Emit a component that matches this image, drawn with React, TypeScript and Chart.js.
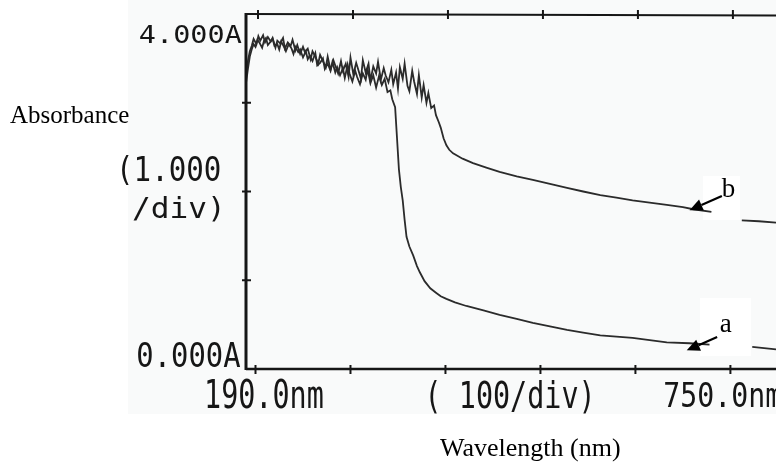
import React, { useEffect, useRef } from "react";
import { Chart, registerables } from "chart.js";

Chart.register(...registerables);

// ---- data (wavelength nm, absorbance A) ----
const curveA: [number, number | null][] = [
  [190, 3.22], [192, 3.38], [194, 3.52], [196, 3.6], [198, 3.66], [200, 3.63], [202, 3.71], [204, 3.68],
  [207, 3.62], [209, 3.7], [211, 3.73], [213, 3.65], [216, 3.69], [218, 3.72], [220, 3.64], [223, 3.66],
  [225, 3.6], [227, 3.69], [230, 3.63], [232, 3.58], [235, 3.66], [238, 3.61], [240, 3.55], [242, 3.63],
  [245, 3.57], [247, 3.6], [250, 3.51], [253, 3.58], [255, 3.49], [257, 3.53], [260, 3.47], [263, 3.56],
  [265, 3.42], [268, 3.45], [271, 3.5], [273, 3.38], [276, 3.44], [279, 3.36], [281, 3.46], [284, 3.34],
  [286, 3.4], [289, 3.31], [292, 3.39], [294, 3.28], [297, 3.43], [299, 3.33], [302, 3.24], [305, 3.36],
  [307, 3.29], [310, 3.21], [313, 3.33], [316, 3.26], [318, 3.38], [321, 3.22], [324, 3.31], [327, 3.17],
  [330, 3.3], [333, 3.2], [336, 3.27], [339, 3.12], [342, 3.14], [344, 3.04], [347, 2.95], [349, 2.6],
  [351, 2.25], [353, 2.05], [355, 1.9], [357, 1.68], [359, 1.49], [362, 1.38], [366, 1.28], [370, 1.16],
  [373, 1.09], [378, 0.99], [384, 0.91], [390, 0.86], [395, 0.82], [401, 0.79], [410, 0.75], [422, 0.71],
  [440, 0.66], [457, 0.61], [475, 0.565], [492, 0.52], [510, 0.48], [528, 0.44], [545, 0.41], [563, 0.38],
  [580, 0.365], [597, 0.35], [615, 0.325], [633, 0.3], [657, 0.29], [678, 0.275], [700, null], [723, 0.25],
  [748, 0.22],
];

const curveB: [number, number | null][] = [
  [190, 3.3], [192, 3.47], [194, 3.58], [196, 3.64], [198, 3.72], [201, 3.66], [203, 3.75], [205, 3.7],
  [208, 3.76], [210, 3.68], [213, 3.74], [216, 3.69], [218, 3.73], [221, 3.62], [223, 3.7], [226, 3.67],
  [229, 3.73], [231, 3.61], [234, 3.68], [237, 3.64], [239, 3.71], [242, 3.59], [244, 3.65], [247, 3.55],
  [250, 3.63], [252, 3.57], [255, 3.61], [258, 3.49], [260, 3.58], [263, 3.52], [266, 3.44], [268, 3.54],
  [271, 3.47], [274, 3.4], [276, 3.52], [279, 3.37], [282, 3.48], [284, 3.42], [287, 3.33], [290, 3.47],
  [292, 3.36], [295, 3.44], [298, 3.29], [300, 3.51], [303, 3.32], [306, 3.45], [308, 3.38], [311, 3.27],
  [313, 3.48], [316, 3.34], [319, 3.44], [321, 3.25], [324, 3.41], [327, 3.33], [329, 3.46], [332, 3.26],
  [335, 3.39], [337, 3.31], [340, 3.23], [343, 3.37], [345, 3.21], [348, 3.34], [350, 3.16], [352, 3.4],
  [355, 3.27], [357, 3.44], [360, 3.19], [362, 3.13], [365, 3.36], [367, 3.24], [370, 3.1], [372, 3.31],
  [375, 3.06], [377, 3.2], [380, 3.0], [382, 3.11], [385, 2.94], [388, 2.97], [390, 2.86], [393, 2.78],
  [395, 2.72], [398, 2.6], [401, 2.52], [404, 2.47], [408, 2.43], [413, 2.4], [418, 2.37], [429, 2.32],
  [443, 2.27], [457, 2.22], [475, 2.17], [492, 2.13], [510, 2.085], [528, 2.04], [545, 2.0], [563, 1.96],
  [580, 1.93], [597, 1.9], [615, 1.875], [633, 1.85], [650, 1.825], [661, 1.8], [680, 1.77], [695, null],
  [712, 1.675], [730, 1.665], [748, 1.65],
];

const xRange = [190, 748];
const yRange = [0, 4];
const xTickValues = [200, 300, 400, 500, 600, 700];
const yTickValues = [1, 2, 3];
const yAxisTexts = ["4.000A", "(1.000", "/div)", "0.000A"];
const xAxisTexts = ["190.0nm", "( 100/div)", "750.0nm"];
const yTitle = "Absorbance";
const xTitle = "Wavelength (nm)";
const curveNames = ["a", "b"];
const arrowTips: [number, number][] = [[654, 0.21], [657, 1.79]];
const arrowTails: [number, number][] = [[686, 0.36], [691, 1.95]];
const nameAnchors: [number, number][] = [[695, 0.5], [698, 2.02]];

const INK = "#161616";

function drawFit(ctx: CanvasRenderingContext2D, text: string, x0: number, x1: number, top: number, base: number) {
  const size = (base - top) / 0.73;
  ctx.font = `${size}px "DejaVu Sans Mono"`;
  const m = ctx.measureText(text);
  const inkW = m.actualBoundingBoxRight + m.actualBoundingBoxLeft;
  const sx = (x1 - x0) / inkW;
  ctx.save();
  ctx.translate(x0, base);
  ctx.scale(sx, 1);
  ctx.textAlign = "left";
  ctx.textBaseline = "alphabetic";
  ctx.fillStyle = INK;
  ctx.fillText(text, m.actualBoundingBoxLeft, 0);
  ctx.restore();
}

function drawArrow(ctx: CanvasRenderingContext2D, tx: number, ty: number, hx: number, hy: number) {
  const ang = Math.atan2(hy - ty, hx - tx);
  const headLen = 13;
  const headW = 6;
  const bx = hx - Math.cos(ang) * headLen;
  const by = hy - Math.sin(ang) * headLen;
  ctx.strokeStyle = "#000";
  ctx.lineWidth = 2.2;
  ctx.beginPath();
  ctx.moveTo(tx, ty);
  ctx.lineTo(bx, by);
  ctx.stroke();
  ctx.fillStyle = "#000";
  ctx.beginPath();
  ctx.moveTo(hx, hy);
  ctx.lineTo(bx + Math.sin(ang) * headW, by - Math.cos(ang) * headW);
  ctx.lineTo(bx - Math.sin(ang) * headW, by + Math.cos(ang) * headW);
  ctx.closePath();
  ctx.fill();
}

const decorPlugin = {
  id: "decor",
  beforeDraw(chart: any) {
    const ctx: CanvasRenderingContext2D = chart.ctx;
    ctx.save();
    ctx.fillStyle = "#ffffff";
    ctx.fillRect(0, 0, chart.width, chart.height);
    ctx.fillStyle = "#f9fafa";
    ctx.fillRect(128, 0, chart.width - 128, 414);
    ctx.fillStyle = "#ffffff";
    ctx.fillRect(703, 176, 37, 44);
    ctx.fillRect(700, 298, 51, 58);
    ctx.restore();
  },
  afterDatasetsDraw(chart: any) {
    const ctx: CanvasRenderingContext2D = chart.ctx;
    const xs = chart.scales.x;
    const ys = chart.scales.y;
    const a = chart.chartArea;
    ctx.save();
    ctx.strokeStyle = INK;
    ctx.lineCap = "butt";
    // frame
    ctx.lineWidth = 3;
    ctx.beginPath();
    ctx.moveTo(a.left, a.top - 1);
    ctx.lineTo(a.left, a.bottom + 1);
    ctx.stroke();
    ctx.lineWidth = 2.2;
    ctx.beginPath();
    ctx.moveTo(a.left, a.top);
    ctx.lineTo(a.right, a.top + 1.5);
    ctx.stroke();
    ctx.lineWidth = 2.6;
    ctx.beginPath();
    ctx.moveTo(a.left, a.bottom);
    ctx.lineTo(a.right, a.bottom);
    ctx.stroke();
    // ticks
    ctx.lineWidth = 2;
    xTickValues.forEach((v) => {
      const px = xs.getPixelForValue(v);
      ctx.beginPath();
      ctx.moveTo(px, a.bottom - 4);
      ctx.lineTo(px, a.bottom + 5);
      ctx.stroke();
      const tpx = px + 2.5;
      ctx.beginPath();
      ctx.moveTo(tpx, a.top - 4);
      ctx.lineTo(tpx, a.top + 5);
      ctx.stroke();
    });
    yTickValues.forEach((v) => {
      const py = ys.getPixelForValue(v);
      ctx.beginPath();
      ctx.moveTo(a.left - 4, py);
      ctx.lineTo(a.left + 5, py);
      ctx.stroke();
    });
    // instrument labels
    drawFit(ctx, yAxisTexts[0], 140, 242, 25, 43);
    drawFit(ctx, yAxisTexts[1], 122, 220, 156, 181);
    drawFit(ctx, yAxisTexts[2], 133, 220, 197, 218);
    drawFit(ctx, yAxisTexts[3], 138, 240, 342, 367);
    drawFit(ctx, xAxisTexts[0], 207, 323, 380, 408);
    drawFit(ctx, xAxisTexts[1], 430, 590, 381, 408);
    drawFit(ctx, xAxisTexts[2], 665, 781, 382, 407);
    // titles
    ctx.fillStyle = "#000";
    ctx.textAlign = "left";
    ctx.textBaseline = "alphabetic";
    ctx.font = '25px "Liberation Serif"';
    ctx.fillText(yTitle, 10, 123);
    ctx.font = '26px "Liberation Serif"';
    ctx.fillText(xTitle, 440, 456);
    // curve annotations
    curveNames.forEach((name, i) => {
      drawArrow(
        ctx,
        xs.getPixelForValue(arrowTails[i][0]),
        ys.getPixelForValue(arrowTails[i][1]),
        xs.getPixelForValue(arrowTips[i][0]),
        ys.getPixelForValue(arrowTips[i][1])
      );
      ctx.fillStyle = "#000";
      ctx.font = '27px "Liberation Serif"';
      ctx.textAlign = "center";
      ctx.textBaseline = "middle";
      ctx.fillText(name, xs.getPixelForValue(nameAnchors[i][0]), ys.getPixelForValue(nameAnchors[i][1]));
    });
    ctx.restore();
  },
};

export default function App() {
  const ref = useRef<HTMLCanvasElement>(null);
  useEffect(() => {
    if (!ref.current) return;
    const toPts = (c: [number, number | null][]) => c.map(([x, y]) => ({ x, y }));
    const chart = new Chart(ref.current, {
      type: "line",
      data: {
        datasets: [
          {
            label: curveNames[0],
            data: toPts(curveA) as any,
            borderColor: "#2b2b2b",
            borderWidth: 1.8,
            pointRadius: 0,
            tension: 0,
            spanGaps: false,
          },
          {
            label: curveNames[1],
            data: toPts(curveB) as any,
            borderColor: "#2b2b2b",
            borderWidth: 1.8,
            pointRadius: 0,
            tension: 0,
            spanGaps: false,
          },
        ],
      },
      options: {
        responsive: false,
        animation: false,
        events: [],
        layout: { padding: { left: 246, top: 14, right: 0, bottom: 93 } },
        plugins: { legend: { display: false }, tooltip: { enabled: false }, title: { display: false } },
        scales: {
          x: { type: "linear", min: xRange[0], max: xRange[1], display: false },
          y: { type: "linear", min: yRange[0], max: yRange[1], display: false },
        },
      },
      plugins: [decorPlugin],
    });
    return () => chart.destroy();
  }, []);
  return (
    <div style={{ position: "fixed", left: 0, top: 0, width: 776, height: 462 }}>
      <canvas ref={ref} width={776} height={462} style={{ display: "block", width: 776, height: 462 }} />
    </div>
  );
}
